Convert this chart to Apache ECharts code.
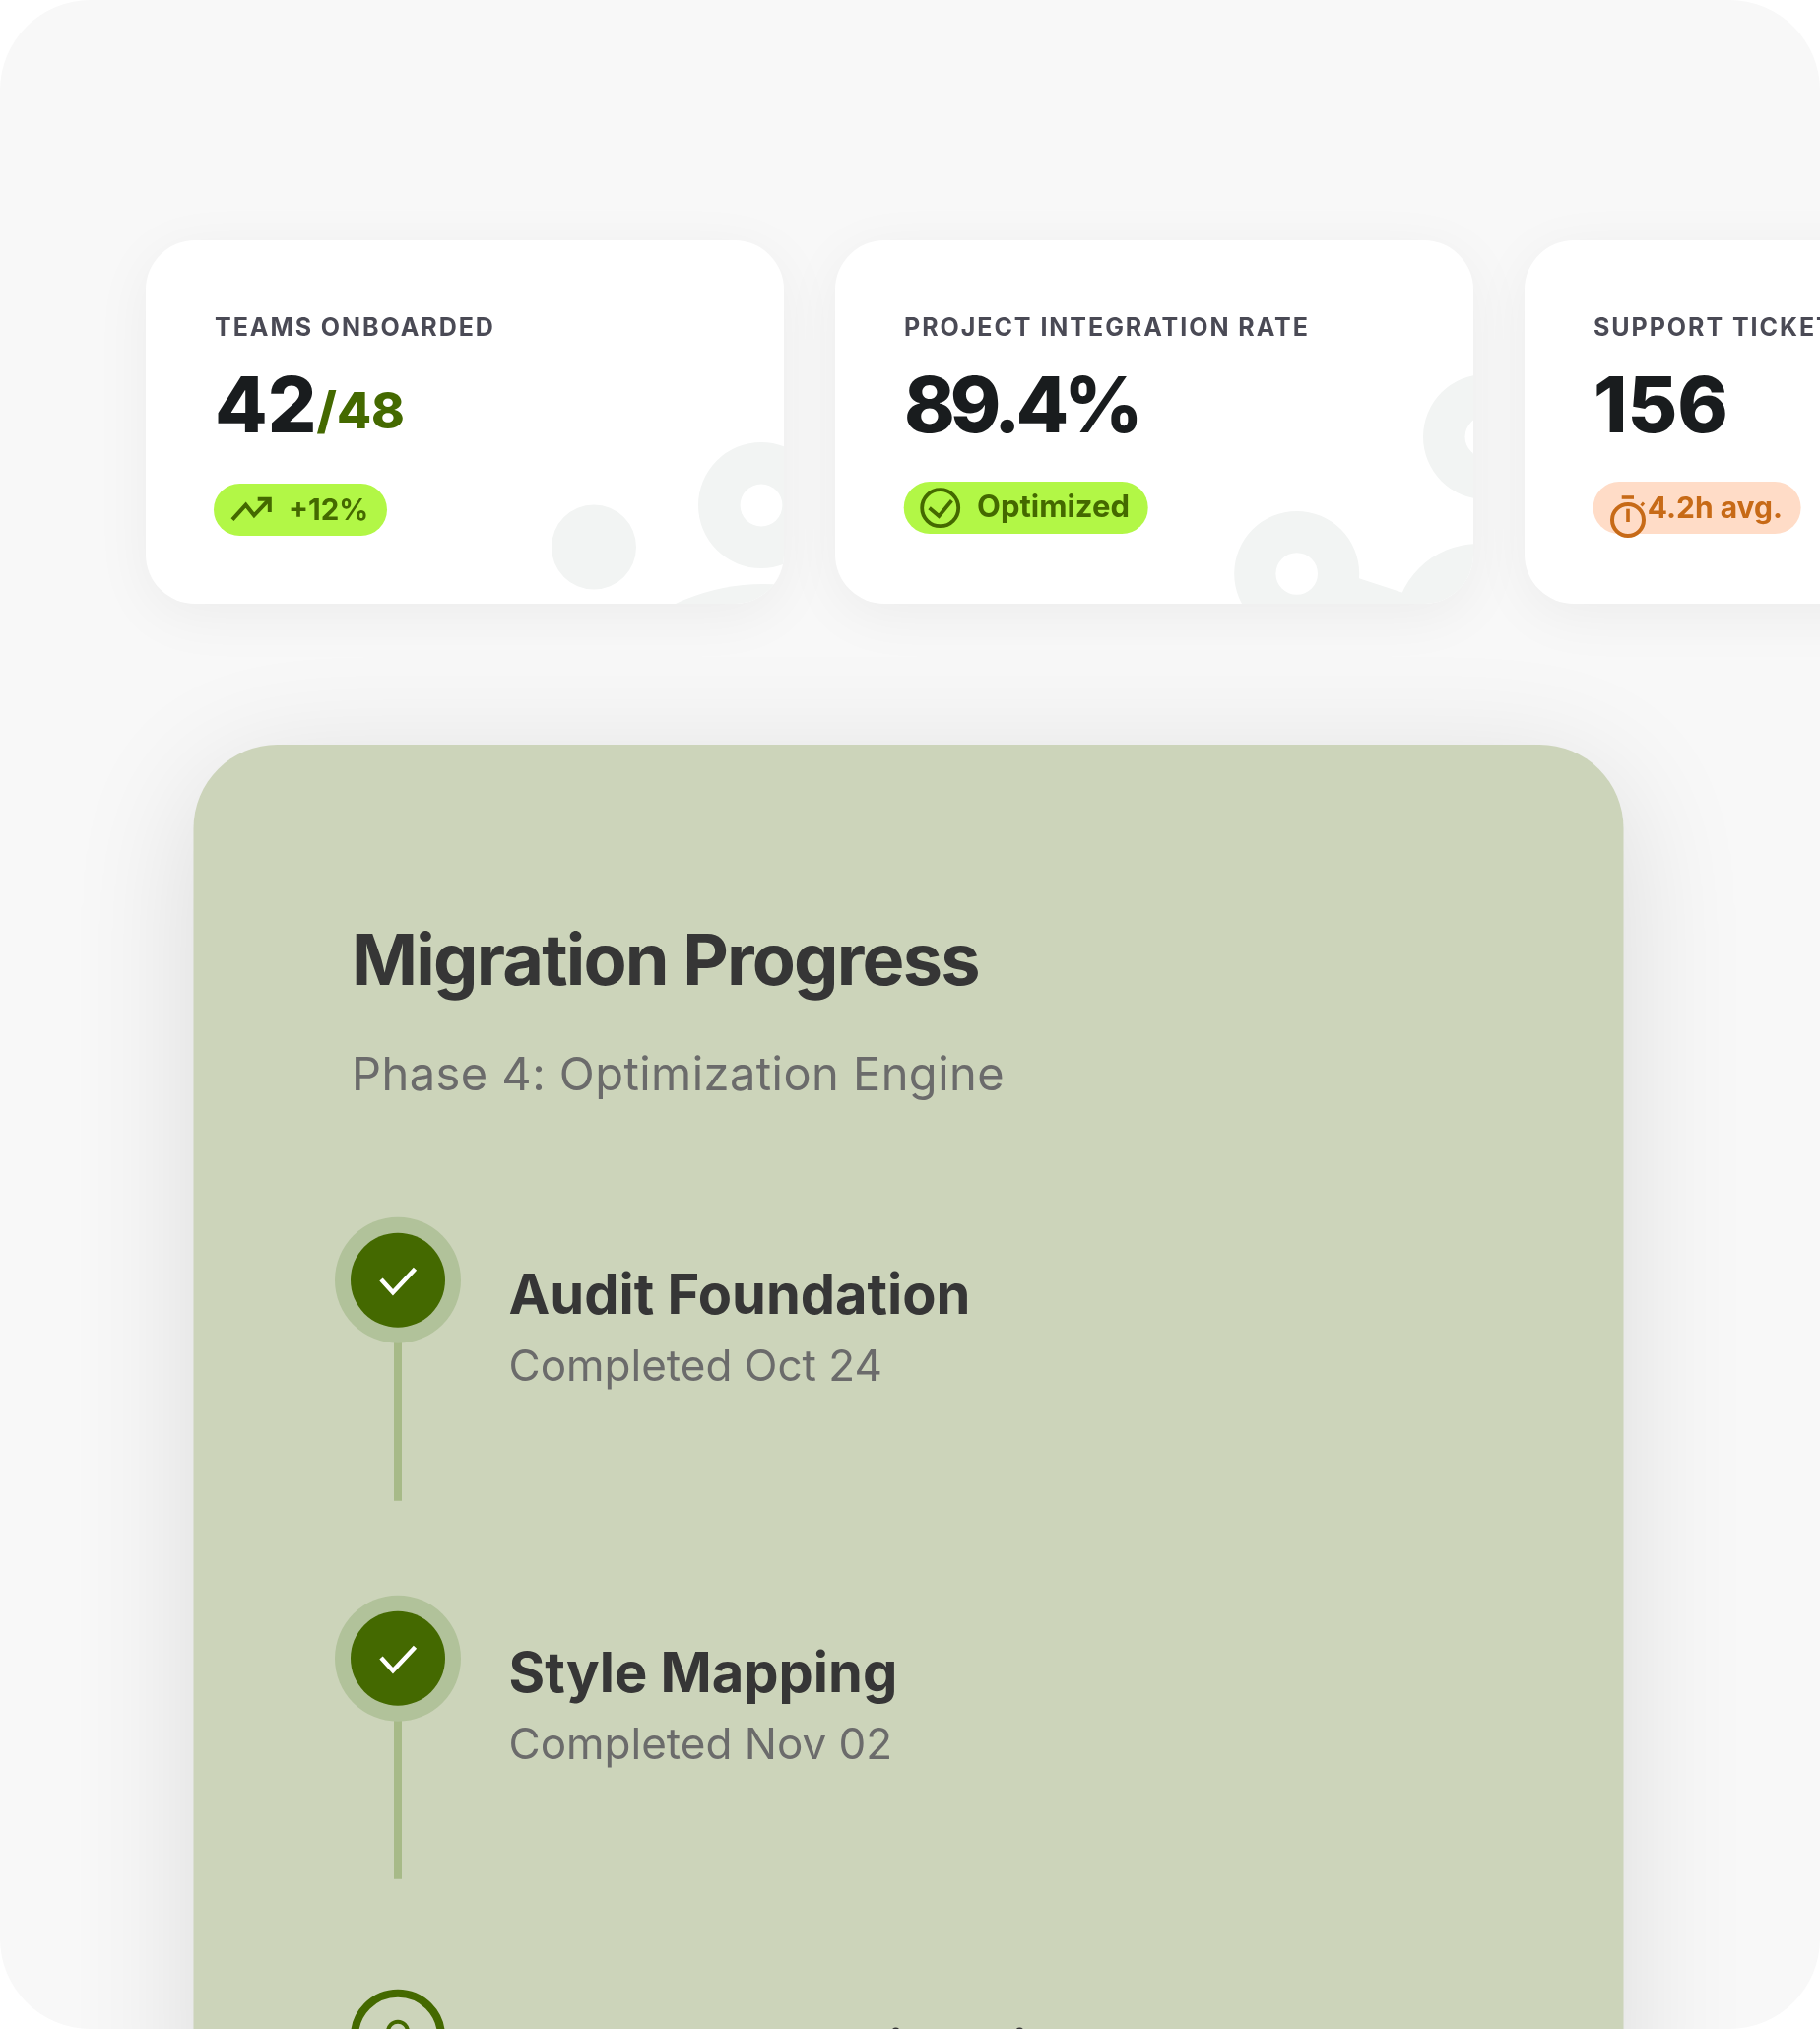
<!DOCTYPE html>
<html>
<head>
<meta charset="utf-8">
<title>Migration dashboard</title>
<script src="https://cdn.jsdelivr.net/npm/echarts@6/dist/echarts.min.js"></script>
<style>
  html, body { margin: 0; padding: 0; background: #fff; }
  #chart { width: 1848px; height: 2060px; }
</style>
</head>
<body>
<div id="chart"></div>
<script>
// kpi cards
const kpiLabels = ['TEAMS ONBOARDED', 'PROJECT INTEGRATION RATE', 'SUPPORT TICKETS'];
const kpiValues = ['42', '89.4%', '156'];
const kpiTotals = ['/48', '', ''];
const kpiBadges = ['+12%', 'Optimized', '4.2h avg.'];

// timeline
const stepTitles = ['Audit Foundation', 'Style Mapping', 'Component Migration'];
const stepDates = ['Completed Oct 24', 'Completed Nov 02', ''];
const stepDone = [true, true, false];

const panelTitle = 'Migration Progress';
const panelSubtitle = 'Phase 4: Optimization Engine';

const GREEN = '#446900';
const LIME = '#b2f746';
const PEACH = '#ffdcc7';
const ORANGE = '#c76a17';
const INK = '#191c1e';
const DARK = '#363636';
const MUTED = '#6b6b6b';
const DECOR = '#f2f4f3';

// ctx.letterSpacing isn't exposed by zrender, so set it per string
const tracking = {
  'TEAMS ONBOARDED': 1.95, 'PROJECT INTEGRATION RATE': 1.95, 'SUPPORT TICKETS': 1.95,
  '89.4%': -5,
  'Migration Progress': -1.8, 'Phase 4: Optimization Engine': 0.45
};
const rawFillText = CanvasRenderingContext2D.prototype.fillText;
CanvasRenderingContext2D.prototype.fillText = function (t, x, y, w) {
  this.letterSpacing = (tracking[t] || 0) + 'px';
  return rawFillText.call(this, t, x, y, w);
};

// text placed by its baseline (zrender centres on the em box, .29em above it for Inter here)
const MID = 0.29;
function label(text, x, baseline, size, weight, fill) {
  return {
    type: 'text',
    style: {
      text, x, y: baseline - size * MID, fill,
      font: weight + ' ' + size + 'px Inter, sans-serif',
      textAlign: 'left', textVerticalAlign: 'middle'
    }
  };
}
function poly(points, stroke, lineWidth) {
  return {
    type: 'polyline',
    shape: { points },
    style: { stroke, lineWidth, fill: 'none', lineJoin: 'miter' }
  };
}
function dot(cx, cy, r, fill) {
  return { type: 'circle', shape: { cx, cy, r }, style: { fill } };
}
function ring(cx, cy, r, stroke, lineWidth) {
  return { type: 'circle', shape: { cx, cy, r }, style: { fill: 'none', stroke, lineWidth } };
}

const CARD_W = 648, CARD_H = 369;

// background blobs of each card
function cardDecor(i, x, y) {
  const c = [];
  const donut = (cx, cy, r, hole) => {
    c.push(dot(x + cx, y + cy, r, DECOR), dot(x + cx, y + cy, hole, '#fff'));
  };
  if (i === 0) {
    c.push(dot(x + 627, y + 557, 208, DECOR));
    c.push(dot(x + 455, y + 311.5, 43, DECOR));
    donut(625, 269, 64, 21.4);
  } else if (i === 1) {
    c.push(dot(x + 653, y + 393, 85, DECOR));
    c.push({
      type: 'polygon',
      shape: { points: [[x + 532, y + 343.3], [x + 576.3, y + 357.7], [x + 600, y + 380], [x + 490, y + 380]] },
      style: { fill: DECOR }
    });
    donut(660.5, 199.5, 63.5, 21);
    donut(468.7, 338.5, 63.5, 21.3);
  }
  return c;
}

function cardBadge(i, x, y) {
  const c = [];
  if (i === 0) {
    c.push({ type: 'rect', shape: { x: x + 69, y: y + 247, width: 176, height: 53, r: 26.5 }, style: { fill: LIME } });
    c.push(poly([[x + 88, y + 283.7], [x + 101.6, y + 268.7], [x + 110, y + 279.3], [x + 125.8, y + 262.7]], GREEN, 4));
    c.push(poly([[x + 113.7, y + 262.7], [x + 125.8, y + 262.7], [x + 125.8, y + 276]], GREEN, 4));
    c.push(label(kpiBadges[i], x + 145, y + 283.3, 29.5, 700, GREEN));
  } else if (i === 1) {
    c.push({ type: 'rect', shape: { x: x + 69.7, y: y + 245, width: 248, height: 53, r: 26.5 }, style: { fill: LIME } });
    c.push(ring(x + 106.7, y + 271.7, 18.5, GREEN, 3.8));
    c.push(poly([[x + 95.6, y + 271.7], [x + 105.4, y + 280], [x + 118.4, y + 264.3]], GREEN, 3.8));
    c.push(label(kpiBadges[i], x + 144, y + 281, 31, 700, GREEN));
  } else {
    c.push({ type: 'rect', shape: { x: x + 69.6, y: y + 245, width: 211, height: 53, r: 26.5 }, style: { fill: PEACH } });
    c.push(ring(x + 105, y + 284, 16, ORANGE, 4));
    c.push(poly([[x + 98.7, y + 261], [x + 111, y + 261]], ORANGE, 3.6));
    c.push(poly([[x + 105, y + 272.7], [x + 105, y + 286]], ORANGE, 3.6));
    c.push(poly([[x + 118.5, y + 269.5], [x + 121, y + 266.5]], ORANGE, 3));
    c.push(label(kpiBadges[i], x + 124.7, y + 281.7, 30, 700, ORANGE));
  }
  return c;
}

function renderCard(params, api) {
  const i = api.value(0);
  const p = api.coord([i, 0]);
  const x = p[0] - CARD_W / 2, y = p[1];
  const children = [
    {
      type: 'rect',
      shape: { x, y, width: CARD_W, height: CARD_H, r: 50 },
      style: { fill: '#fff', shadowBlur: 60, shadowOffsetY: 12, shadowColor: 'rgba(0,0,0,0.05)' }
    },
    {
      type: 'group',
      clipPath: { type: 'rect', shape: { x, y, width: CARD_W, height: CARD_H, r: 50 } },
      children: cardDecor(i, x, y)
    },
    label(kpiLabels[i], x + 70, y + 97, 25, 700, '#4a4a55'),
    label(kpiValues[i], x + 70, y + 194, 78, 800, INK)
  ];
  if (kpiTotals[i]) children.push(label(kpiTotals[i], x + 173.5, y + 190, 51, 800, GREEN));
  return { type: 'group', children: children.concat(cardBadge(i, x, y)) };
}

function renderStep(params, api) {
  const i = api.value(1);
  const p = api.coord([1, i]);
  const x = p[0], y = p[1];
  const children = [];
  if (stepDone[i]) {
    children.push({ type: 'rect', shape: { x: x - 4, y: y + 60, width: 8, height: 164 }, style: { fill: '#a7ba88' } });
    children.push(dot(x, y, 64, '#b1c29a'), dot(x, y, 48, GREEN));
    children.push(poly([[x - 17, y - 0.7], [x - 5, y + 12.6], [x + 17.5, y - 11.4]], '#fff', 4.5));
  } else {
    children.push(ring(x, y, 44, GREEN, 8));
    children.push(ring(x, y - 5, 10, GREEN, 4));
  }
  children.push(label(stepTitles[i], x + 112.5, y + 33.3, 56, 700, DARK));
  if (stepDates[i]) children.push(label(stepDates[i], x + 112.5, y + 102, 44, 400, MUTED));
  return { type: 'group', children };
}

const chart = echarts.init(document.getElementById('chart'), null, { renderer: 'canvas' });

// grids stay inside the canvas: one unit is one card or one step, the later ones run off the edge
chart.setOption({
  animation: false,
  backgroundColor: '#ffffff',
  grid: [
    { left: 472, top: 244, width: 700, height: CARD_H },
    { left: 204, top: 1299.7, width: 400, height: 384 }
  ],
  xAxis: [
    { type: 'value', gridIndex: 0, show: false, min: 0, max: 1 },
    { type: 'value', gridIndex: 1, show: false, min: 0, max: 2 }
  ],
  yAxis: [
    { type: 'value', gridIndex: 0, show: false, inverse: true, min: 0, max: 1 },
    { type: 'value', gridIndex: 1, show: false, inverse: true, min: 0, max: 1 }
  ],
  graphic: {
    elements: [
      {
        type: 'rect', z: -10, silent: true,
        shape: { x: 0, y: 0, width: 1848, height: 2060, r: 92 },
        style: { fill: '#f8f8f8' }
      },
      {
        type: 'rect', z: -9, silent: true,
        shape: { x: 196.5, y: 756, width: 1452, height: 1600, r: 85 },
        style: { fill: '#ccd4ba', shadowBlur: 130, shadowOffsetY: 26, shadowColor: 'rgba(0,0,0,0.12)' }
      },
      {
        type: 'text', z: -8, silent: true, x: 357, y: 999 - 72 * MID,
        style: { text: panelTitle, fill: DARK, font: '700 72px Inter, sans-serif', textVerticalAlign: 'middle' }
      },
      {
        type: 'text', z: -8, silent: true, x: 357, y: 1107 - 47 * MID,
        style: { text: panelSubtitle, fill: MUTED, font: '400 47px Inter, sans-serif', textVerticalAlign: 'middle' }
      }
    ]
  },
  series: [
    {
      type: 'custom', coordinateSystem: 'cartesian2d', xAxisIndex: 0, yAxisIndex: 0,
      clip: false, silent: true,
      encode: { x: 0, y: 1 },
      data: kpiLabels.map((_, i) => [i, 0]),
      renderItem: renderCard
    },
    {
      type: 'custom', coordinateSystem: 'cartesian2d', xAxisIndex: 1, yAxisIndex: 1,
      clip: false, silent: true,
      encode: { x: 0, y: 1 },
      data: stepTitles.map((_, i) => [1, i]),
      renderItem: renderStep
    }
  ]
});
</script>
</body>
</html>
